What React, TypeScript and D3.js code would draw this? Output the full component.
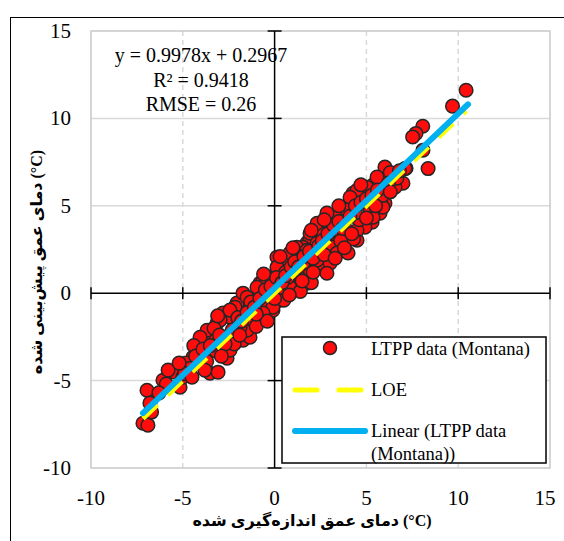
import React, { useEffect, useRef } from "react";
import * as d3 from "d3";

const measured = [
  -7.17, -6.9, -6.95, -6.79, -6.08, -5.26, -5.15, -4.44, -4.06, -3.52, -3.08, -2.59, -2.43, -1.72, -1.34, -2.05, -1.5, -0.63, -0.09, -3.52, -3.9, -2.81,
  -3.14, -2.43, -2.05, -1.18, -1.5, -0.8, -0.41, 0.13, 0.29, 1.0, 0.46, 1.22, 1.76, 2.47, 2.85, 3.4, 3.02, 1.93, 1.76, 2.47, 3.94, 4.49, 0.84, 0.13, -0.41, -0.96, -1.72, -2.16,
  6.01, 7.16, 8.36, 6.99, 6.56, 6.01, 5.74, 5.31, 4.92, 4.49, 4.27, 4.11, 5.36, 5.03, 5.58, 3.56, 3.02, 3.18, 2.47, 1.93, 1.55, 2.31, 3.18, 3.94, 1.76, 2.47, 3.02, 3.4,
  6.66, 5.58, 5.03, 4.49, 4.11, 5.9, 5.36, 3.4, 3.94,
  10.43, 9.69, 8.07, 7.7, 7.52, 8.08, 7.1,
  2.85, 2.31, 1.93, 1.22, 0.13, -0.63, -0.96, -1.5, -2.43, -2.97, -3.68, -4.06, 1.76, 1.55, 1.22, 0.84, 0.29, -0.09, -0.63, -1.18, -1.88, 2.31, 2.85, 2.31,
  -5.5, -4.8, -4.6, -5.9, -6.3, -6.7, -3.2, -2.8, -3.3, -4.4, -5.0, -2.2, -1.0, -0.4, 0.5, 0.7, 1.4, 2.0, 4.0, 4.3, 4.6, 5.1, 5.9, 6.3, 6.8, -3.7, -1.3, 0.0, 0.6, 3.6, 4.4,
  -4.9, -4.3, -3.9, -3.5, -3.0, -2.7, -2.3, -2.0, -1.8, -1.5, -1.1, -0.8, -0.5, -0.2, 0.1, 0.4, 0.6, 0.9, 1.1, 1.3, 1.6, 1.9, 2.1, 2.4, 2.6, 2.9, 3.2, 3.5, 3.7, 4.1,
  4.4, 4.7, 5.0, 5.3, 5.6, 6.2, -2.9, -3.8, -4.5, -1.9, -1.0, 0.0, 0.8, 1.5, 2.1, 2.7, 3.3, 3.8, 4.2, 5.0, 5.5, -5.8, -5.2, -3.1, -0.6, 0.3, 1.0, 2.0, 2.7, 3.5, 4.7, 6.3,
];
const predicted = [
  -7.44, -7.55, -5.55, -6.29, -4.98, -4.41, -5.38, -3.66, -2.97, -4.58, -4.52, -3.72, -3.26, -2.69, -2.52, -1.72, -0.97, -0.4, -0.97, -2.29, -2.52, -1.14,
  -1.72, -1.37, -0.57, -1.72, -2.12, 0.57, 0.92, 1.32, -0.4, 0.34, 1.72, 2.29, 2.86, 3.2, 3.78, 2.86, 2.06, 1.32, 0.57, 1.49, 3.6, 3.03, 2.29, 2.06, 0.0, -0.23, 0.0, -0.8,
  7.21, 7.15, 7.13, 6.29, 6.06, 5.15, 4.58, 4.06, 3.78, 3.6, 5.72, 5.15, 6.18, 5.72, 5.72, 4.75, 4.35, 3.6, 3.43, 3.2, 2.63, 2.46, 2.63, 3.2, 1.89, 1.72, 1.72, 2.29,
  6.58, 6.64, 6.06, 5.89, 5.49, 4.92, 4.35, 4.35, 4.75,
  11.61, 10.7, 9.55, 9.14, 8.94, 8.18, 7.13,
  4.58, 4.0, 3.43, 2.63, 1.49, 0.74, 0.34, -0.23, -0.97, -1.54, -2.12, -2.52, 2.46, 1.72, 1.14, 0.34, 0.0, -0.8, -1.14, -1.54, -1.95, 1.89, 1.14, 2.86,
  -4.5, -4.0, -4.3, -5.2, -5.7, -6.8, -3.3, -2.6, -2.0, -3.0, -4.8, -2.9, -1.9, -1.6, -0.4, 0.9, 0.1, 0.6, 2.3, 3.1, 4.2, 5.0, 5.6, 6.9, 7.0, -3.9, -0.5, 0.5, 1.2, 3.0, 4.6,
  -4.6, -3.6, -3.2, -3.0, -2.4, -2.9, -2.1, -1.4, -1.6, -1.1, -0.8, -0.3, 0.2, 0.4, 0.9, 0.6, 1.0, 1.5, 1.8, 1.5, 2.1, 2.4, 2.0, 2.7, 3.0, 3.4, 3.9, 4.1, 3.7, 4.4,
  5.0, 5.2, 5.4, 5.6, 5.9, 6.3, -3.6, -4.4, -4.8, -2.4, -1.2, -0.3, -0.1, 0.7, 1.2, 2.2, 2.0, 2.6, 3.4, 4.3, 5.0, -4.4, -4.0, -1.3, 1.1, 2.1, 2.6, 3.6, 4.2, 5.0, 6.2, 5.8,
];

const ticks = [-10, -5, 0, 5, 10, 15];
const slope = 0.9978;
const intercept = 0.2967;
const fitRange = [-7.17, 10.53];
const loeRange = [-7.17, 10.43];
const statLines = ["y = 0.9978x + 0.2967", "R\u00b2 = 0.9418", "RMSE = 0.26"];
const legendLabels = ["LTPP data (Montana)", "LOE", "Linear (LTPP data", "(Montana))"];
const xTitle = "دمای عمق اندازه‌گیری شده (°C)";
const yTitle = "دمای عمق پیش‌بینی شده (°C)";

const W = 564, H = 541;
const serif = "'Liberation Serif', 'Times New Roman', 'DejaVu Sans', serif";

const App = () => {
  const svgRef = useRef(null);

  useEffect(() => {
    const svg = d3.select(svgRef.current);
    svg.selectAll("*").remove();

    const x = d3.scaleLinear().domain([-10, 15]).range([91, 550]);
    const y = d3.scaleLinear().domain([-10, 15]).range([468, 31]);

    // outer frame
    svg.append("rect").attr("x", 10.5).attr("y", 17.5).attr("width", 600).attr("height", 600)
      .attr("fill", "none").attr("stroke", "#000").attr("stroke-width", 1);

    // gridlines
    svg.append("g").selectAll("line").data([-5, 5, 10]).join("line")
      .attr("x1", x(-10)).attr("x2", x(15)).attr("y1", d => y(d)).attr("y2", d => y(d))
      .attr("stroke", "#d9d9d9").attr("stroke-width", 1.5);
    svg.append("g").selectAll("line").data([-5, 5, 10]).join("line")
      .attr("y1", y(-10)).attr("y2", y(15)).attr("x1", d => x(d)).attr("x2", d => x(d))
      .attr("stroke", "#d9d9d9").attr("stroke-width", 1.5).attr("stroke-dasharray", "5,4");
    svg.append("rect").attr("x", x(-10)).attr("y", y(15)).attr("width", x(15) - x(-10)).attr("height", y(-10) - y(15))
      .attr("fill", "none").attr("stroke", "#c8c8c8").attr("stroke-width", 1.5);

    // axes through zero with cross ticks
    const ax = svg.append("g").attr("stroke", "#000").attr("stroke-width", 1.5);
    ax.append("line").attr("x1", x(-10)).attr("x2", x(15)).attr("y1", y(0)).attr("y2", y(0));
    ax.append("line").attr("x1", x(0)).attr("x2", x(0)).attr("y1", y(-10)).attr("y2", y(15));
    ax.selectAll(".tx").data(ticks).join("line").attr("class", "tx")
      .attr("x1", d => x(d)).attr("x2", d => x(d)).attr("y1", y(0) - 6).attr("y2", y(0) + 6);
    ax.selectAll(".ty").data(ticks).join("line").attr("class", "ty")
      .attr("y1", d => y(d)).attr("y2", d => y(d)).attr("x1", x(0) - 7).attr("x2", x(0) + 7);

    // tick labels
    svg.append("g").selectAll("text").data(ticks).join("text")
      .attr("x", 71).attr("y", d => y(d) + 7).attr("text-anchor", "end")
      .attr("font-family", serif).attr("font-size", 21).text(d => d);
    svg.append("g").selectAll("text").data(ticks).join("text")
      .attr("x", d => x(d) - (d === 15 ? 5 : 0)).attr("y", 505).attr("text-anchor", "middle")
      .attr("font-family", serif).attr("font-size", 21).text(d => d);

    // points
    const pts = measured.map((m, i) => [m, predicted[i]]);
    svg.append("g").selectAll("circle").data(pts).join("circle")
      .attr("cx", d => x(d[0])).attr("cy", d => y(d[1])).attr("r", 6.8)
      .attr("fill", "#ff0d0d").attr("stroke", "#262626").attr("stroke-width", 1.5);

    // LOE and fit
    const line = d3.line().x(d => x(d[0])).y(d => y(d[1]));
    svg.append("path").attr("d", line(loeRange.map(v => [v, v])))
      .attr("fill", "none").attr("stroke", "#ffff00").attr("stroke-width", 5)
      .attr("stroke-dasharray", "20,14");
    svg.append("path").attr("d", line(fitRange.map(v => [v, slope * v + intercept])))
      .attr("fill", "none").attr("stroke", "#00b0f0").attr("stroke-width", 6).attr("stroke-linecap", "round");

    // stats
    svg.append("g").selectAll("text").data(statLines).join("text")
      .attr("x", 201).attr("y", (d, i) => 62 + i * 24.5).attr("text-anchor", "middle")
      .attr("font-family", serif).attr("font-size", 20).text(d => d);

    // legend
    const lg = svg.append("g");
    lg.append("rect").attr("x", 282).attr("y", 337).attr("width", 264).attr("height", 126)
      .attr("fill", "#fff").attr("stroke", "#000").attr("stroke-width", 1.5);
    lg.append("circle").attr("cx", 330).attr("cy", 348).attr("r", 6.5)
      .attr("fill", "#ff0d0d").attr("stroke", "#262626").attr("stroke-width", 1.5);
    lg.append("line").attr("x1", 295).attr("x2", 365).attr("y1", 390).attr("y2", 390)
      .attr("stroke", "#ffff00").attr("stroke-width", 5).attr("stroke-dasharray", "22,22")
      .attr("stroke-linecap", "round");
    lg.append("line").attr("x1", 295).attr("x2", 365).attr("y1", 431).attr("y2", 431)
      .attr("stroke", "#00b0f0").attr("stroke-width", 6).attr("stroke-linecap", "round");
    lg.selectAll("text").data(legendLabels).join("text")
      .attr("x", 371).attr("y", (d, i) => [355, 396, 437, 460][i])
      .attr("font-family", serif).attr("font-size", 18.5).text(d => d);

    // axis titles
    svg.append("text").attr("x", 312).attr("y", 526).attr("text-anchor", "middle")
      .attr("font-family", serif).attr("font-size", 16).attr("font-weight", "bold").text(xTitle);
    svg.append("text").attr("transform", "translate(42,262) rotate(-90)").attr("text-anchor", "middle")
      .attr("font-family", serif).attr("font-size", 16).attr("font-weight", "bold").text(yTitle);
  }, []);

  return (
    <svg ref={svgRef} width={W} height={H} style={{ position: "absolute", left: 0, top: 0, background: "#fff" }} />
  );
};

export default App;
